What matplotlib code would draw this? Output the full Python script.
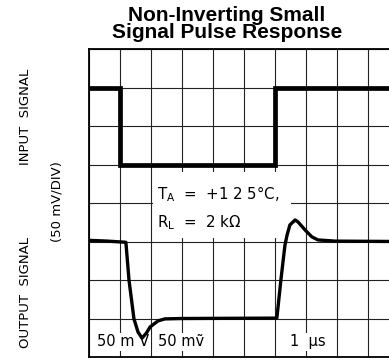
import matplotlib
matplotlib.use("Agg")
import matplotlib.pyplot as plt

# Data (time in divisions, amplitude in divisions)
input_t = [0, 1, 1, 6, 6, 10]
input_v = [7, 7, 5, 5, 7, 7]

output_t = [0, 0.6, 1.19, 1.29, 1.45, 1.58, 1.71, 1.85, 1.97, 2.23, 2.45, 3.0, 6.06,
            6.19, 6.32, 6.39, 6.48, 6.65, 6.74, 6.97, 7.19, 7.39, 7.94, 10]
output_v = [3.03, 3.01, 2.98, 2.0, 0.99, 0.65, 0.49, 0.62, 0.78, 0.94, 0.99, 1.0, 1.01,
            2.0, 2.9, 3.17, 3.43, 3.56, 3.51, 3.30, 3.12, 3.04, 3.01, 3.0]

x_ticks = list(range(0, 11))
y_ticks = list(range(0, 9))

title = "Non-Inverting Small\nSignal Pulse Response"

fig = plt.figure(figsize=(3.89, 3.60), dpi=100)
ax = fig.add_axes([89/389, 3/360, 310/389, 308/360])
ax.set_xlim(0, 10)
ax.set_ylim(0, 8)
ax.set_xticks(x_ticks)
ax.set_yticks(y_ticks)
ax.tick_params(length=0, labelbottom=False, labelleft=False)
ax.grid(True, color="#222222", lw=0.8)
ax.set_axisbelow(True)
for s in ax.spines.values():
    s.set_linewidth(1.3)
    s.set_color("black")

ax.plot(input_t, input_v, color="black", lw=3.4, solid_joinstyle="miter",
        solid_capstyle="butt", zorder=3)
ax.plot(output_t, output_v, color="black", lw=2.4, zorder=5)

fs = 10.8
ax.text(2.19, 4.1, "T$_\\mathregular{A}$  =  +1 2 5°C,", fontsize=fs, ha="left",
        va="baseline", zorder=4)
ax.text(2.19, 3.38, "R$_\\mathregular{L}$  =  2 kΩ", fontsize=fs, ha="left",
        va="baseline", zorder=4)
# white patch behind annotation
ax.axvspan(2.08, 6.5, ymin=(357-238)/308, ymax=(357-172)/308, color="white", zorder=1.5, lw=0)

for xx, s in [(0.26, "50 m V"), (2.23, "50 mṽ"), (6.48, "1  μs")]:
    ax.text(xx, 0.28, s, fontsize=10.5, ha="left", va="baseline", zorder=4,
            bbox=dict(boxstyle="square,pad=0.1", fc="white", ec="none"))

fig.text(227/389, 1 - 6/360, title, ha="center", va="top", fontsize=15,
         fontweight="bold", family="Liberation Sans", linespacing=0.88)

fig.text(26/389, 1 - 117/360, "INPUT  SIGNAL", rotation=90, ha="center", va="center",
         fontsize=9.5)
fig.text(26/389, 1 - 292/360, "OUTPUT  SIGNAL", rotation=90, ha="center", va="center",
         fontsize=9.5)
fig.text(57/389, 1 - 202/360, "(50 mV/DIV)", rotation=90, ha="center", va="center",
         fontsize=9.5)

fig.savefig("out.png", dpi=100)
